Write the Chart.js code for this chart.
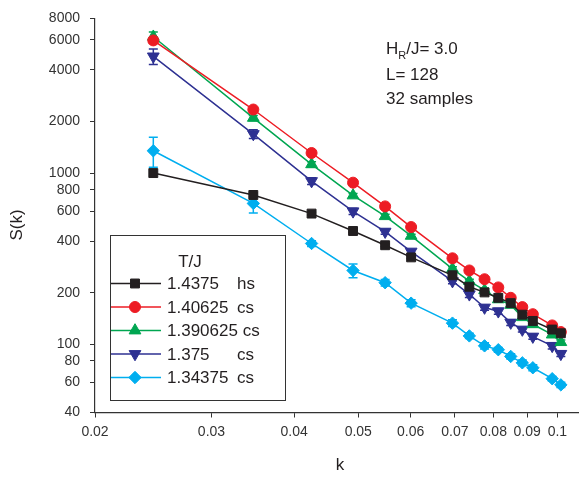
<!DOCTYPE html>
<html>
<head>
<meta charset="utf-8">
<script src="https://cdn.jsdelivr.net/npm/chart.js@4.4.1/dist/chart.umd.min.js"></script>
<style>
  body { margin: 0; background: #fff; }
  #box { width: 586px; height: 479px; }
</style>
</head>
<body>
<div id="box"><canvas id="chart"></canvas></div>
<script>
// wave vectors k
const kValues = [0.0245, 0.0347, 0.0425, 0.0491, 0.0549, 0.0601, 0.0694, 0.0736, 0.0776, 0.0814, 0.0850, 0.0885, 0.0918, 0.0982, 0.1012];

// S(k) per temperature
const s14375   = [1000, 745, 580, 459, 379, 322, 253, 217, 201, 187, 174, 149, 137, 122, 116];
const s140625  = [5950, 2350, 1310, 879, 639, 484, 318, 270, 240, 215, 187, 165, 150, 129, 118];
const s1390625 = [6250, 2100, 1125, 740, 560, 430, 276, 234, 207, 183, 170, 144, 131, 114, 103];
const s1375    = [4800, 1690, 898, 598, 455, 348, 234, 196, 164, 156, 134, 122, 111, 98, 88];
const s134375  = [1350, 665, 388, 270, 229, 174, 133, 112, 98, 93, 85, 78, 73, 63, 58];

// error bars
const e14375   = [0, 20, 10, 8, 6, 5, 5, 5, 5, 5, 4, 4, 4, 3, 3];
const e140625  = [250, 60, 30, 20, 12, 10, 8, 6, 6, 5, 5, 4, 4, 4, 3];
const e1390625 = [420, 70, 40, 20, 15, 10, 8, 6, 6, 5, 5, 4, 4, 3, 3];
const e1375    = [500, 100, 40, 25, 15, 10, 8, 8, 6, 6, 5, 4, 4, 4, 3];
const e134375  = [270, 80, 15, 25, 10, 8, 6, 4, 4, 3, 3, 3, 3, 2, 2];

const tempLabels = ['1.4375', '1.40625', '1.390625', '1.375', '1.34375'];
const runLabels = ['hs', 'cs', 'cs', 'cs', 'cs'];

const xTicks = [0.02, 0.03, 0.04, 0.05, 0.06, 0.07, 0.08, 0.09, 0.1];
const yTicks = [40, 60, 80, 100, 200, 400, 600, 800, 1000, 2000, 4000, 6000, 8000];

const FONT = '"Liberation Sans", Arial, Helvetica, sans-serif';
const INK = '#231f20';

function pts(ys) {
  return kValues.map((k, i) => ({ x: k, y: ys[i] }))
}

function makeSet(i, ys, errs, color, style, radius, rotation) {
  return {
    label: tempLabels[i],
    data: pts(ys),
    errors: errs,
    showLine: true,
    borderColor: color,
    backgroundColor: color,
    borderWidth: 1.5,
    pointStyle: style,
    pointRadius: radius,
    pointHoverRadius: radius,
    pointRotation: rotation || 0,
    pointBorderWidth: 1,
    pointBorderColor: color,
    pointBackgroundColor: color
  }
}

const datasets = [
  makeSet(0, s14375, e14375, '#231f20', 'rect', 6.3),
  makeSet(1, s140625, e140625, '#ed1c24', 'circle', 5.5),
  makeSet(2, s1390625, e1390625, '#00a651', 'triangle', 6.8),
  makeSet(3, s1375, e1375, '#2e3192', 'triangle', 6.8, 180),
  makeSet(4, s134375, e134375, '#00aeef', 'rectRot', 6.2)
];

// error bars, under the markers
const errorBars = {
  id: 'errorBars',
  beforeDatasetsDraw(chart) {
    const ctx = chart.ctx;
    const xs = chart.scales.x, ys = chart.scales.y;
    ctx.save();
    chart.data.datasets.forEach((ds) => {
      ctx.strokeStyle = ds.borderColor;
      ctx.lineWidth = 1.5;
      ds.data.forEach((p, i) => {
        const e = ds.errors[i];
        if (!e) return;
        const x = xs.getPixelForValue(p.x);
        const top = ys.getPixelForValue(p.y + e);
        const bot = ys.getPixelForValue(p.y - e);
        ctx.beginPath();
        ctx.moveTo(x, top); ctx.lineTo(x, bot);
        ctx.moveTo(x - 4.5, top); ctx.lineTo(x + 4.5, top);
        ctx.moveTo(x - 4.5, bot); ctx.lineTo(x + 4.5, bot);
        ctx.stroke();
      })
    })
    ctx.restore();
  }
}

// legend box, notes, axis titles
const extras = {
  id: 'extras',
  afterDraw(chart) {
    const ctx = chart.ctx;
    ctx.save();

    // legend
    ctx.fillStyle = '#fff';
    ctx.fillRect(110.5, 235.5, 175, 165);
    ctx.strokeStyle = '#333';
    ctx.lineWidth = 1;
    ctx.strokeRect(110.5, 235.5, 175, 165);

    ctx.fillStyle = INK;
    ctx.font = '17px ' + FONT;
    ctx.textBaseline = 'middle';
    ctx.textAlign = 'center';
    ctx.fillText('T/J', 190, 262);

    const rowY = [283.5, 307, 330.5, 354, 377.5];
    ctx.textAlign = 'left';
    chart.data.datasets.forEach((ds, i) => {
      const y = rowY[i];
      ctx.strokeStyle = ds.borderColor;
      ctx.lineWidth = 1.5;
      ctx.beginPath();
      ctx.moveTo(111, y); ctx.lineTo(161, y);
      ctx.stroke();
      ctx.fillStyle = ds.backgroundColor;
      ctx.lineWidth = 1;
      Chart.helpers.drawPoint(ctx, {
        pointStyle: ds.pointStyle,
        rotation: ds.pointRotation,
        radius: ds.pointRadius,
        borderWidth: 1
      }, 135, y);
      ctx.fillStyle = INK;
      ctx.fillText(tempLabels[i], 167, y + 1);
      const w = ctx.measureText(tempLabels[i] + ' ').width;
      ctx.fillText(runLabels[i], Math.max(237, 167 + w), y + 1);
    })

    // notes
    ctx.fillStyle = INK;
    ctx.font = '17px ' + FONT;
    ctx.fillText('H', 386, 49);
    let hx = 386 + ctx.measureText('H').width;
    ctx.font = '11px ' + FONT;
    ctx.fillText('R', hx, 56);
    hx += ctx.measureText('R').width;
    ctx.font = '17px ' + FONT;
    ctx.fillText('/J= 3.0', hx, 49);
    ctx.fillText('L= 128', 386, 75);
    ctx.fillText('32 samples', 386, 99);

    // axis titles
    ctx.textAlign = 'center';
    ctx.fillText('k', 340, 465);
    ctx.translate(17, 225);
    ctx.rotate(-Math.PI / 2);
    ctx.fillText('S(k)', 0, 0);

    ctx.restore();
  }
}

const axisStyle = {
  grid: { display: true, drawOnChartArea: false, drawTicks: true, tickLength: 5, color: '#333', lineWidth: 1 },
  border: { display: true, color: '#333', width: 1.2 }
}

new Chart(document.getElementById('chart'), {
  type: 'scatter',
  data: { datasets: datasets },
  options: {
    responsive: true,
    maintainAspectRatio: false,
    animation: false,
    layout: { padding: { left: 0, top: 12, right: 1, bottom: 0 } },
    plugins: {
      legend: { display: false },
      tooltip: { enabled: false }
    },
    scales: {
      x: {
        type: 'logarithmic',
        min: 0.02,
        max: 0.1075,
        ...axisStyle,
        afterBuildTicks: (scale) => { scale.ticks = xTicks.map(v => ({ value: v })) },
        afterFit: (scale) => { scale.height = 66.5 },
        ticks: {
          autoSkip: false,
          maxRotation: 0,
          padding: 6,
          color: '#333',
          font: { family: FONT, size: 14 },
          callback: (v) => String(v)
        }
      },
      y: {
        type: 'logarithmic',
        min: 40,
        max: 8000,
        ...axisStyle,
        afterBuildTicks: (scale) => { scale.ticks = yTicks.map(v => ({ value: v })) },
        afterFit: (scale) => { scale.width = 95 },
        ticks: {
          autoSkip: false,
          padding: 10,
          color: '#333',
          font: { family: FONT, size: 14 },
          callback: (v) => String(v)
        }
      }
    }
  },
  plugins: [errorBars, extras]
})
</script>
</body>
</html>
